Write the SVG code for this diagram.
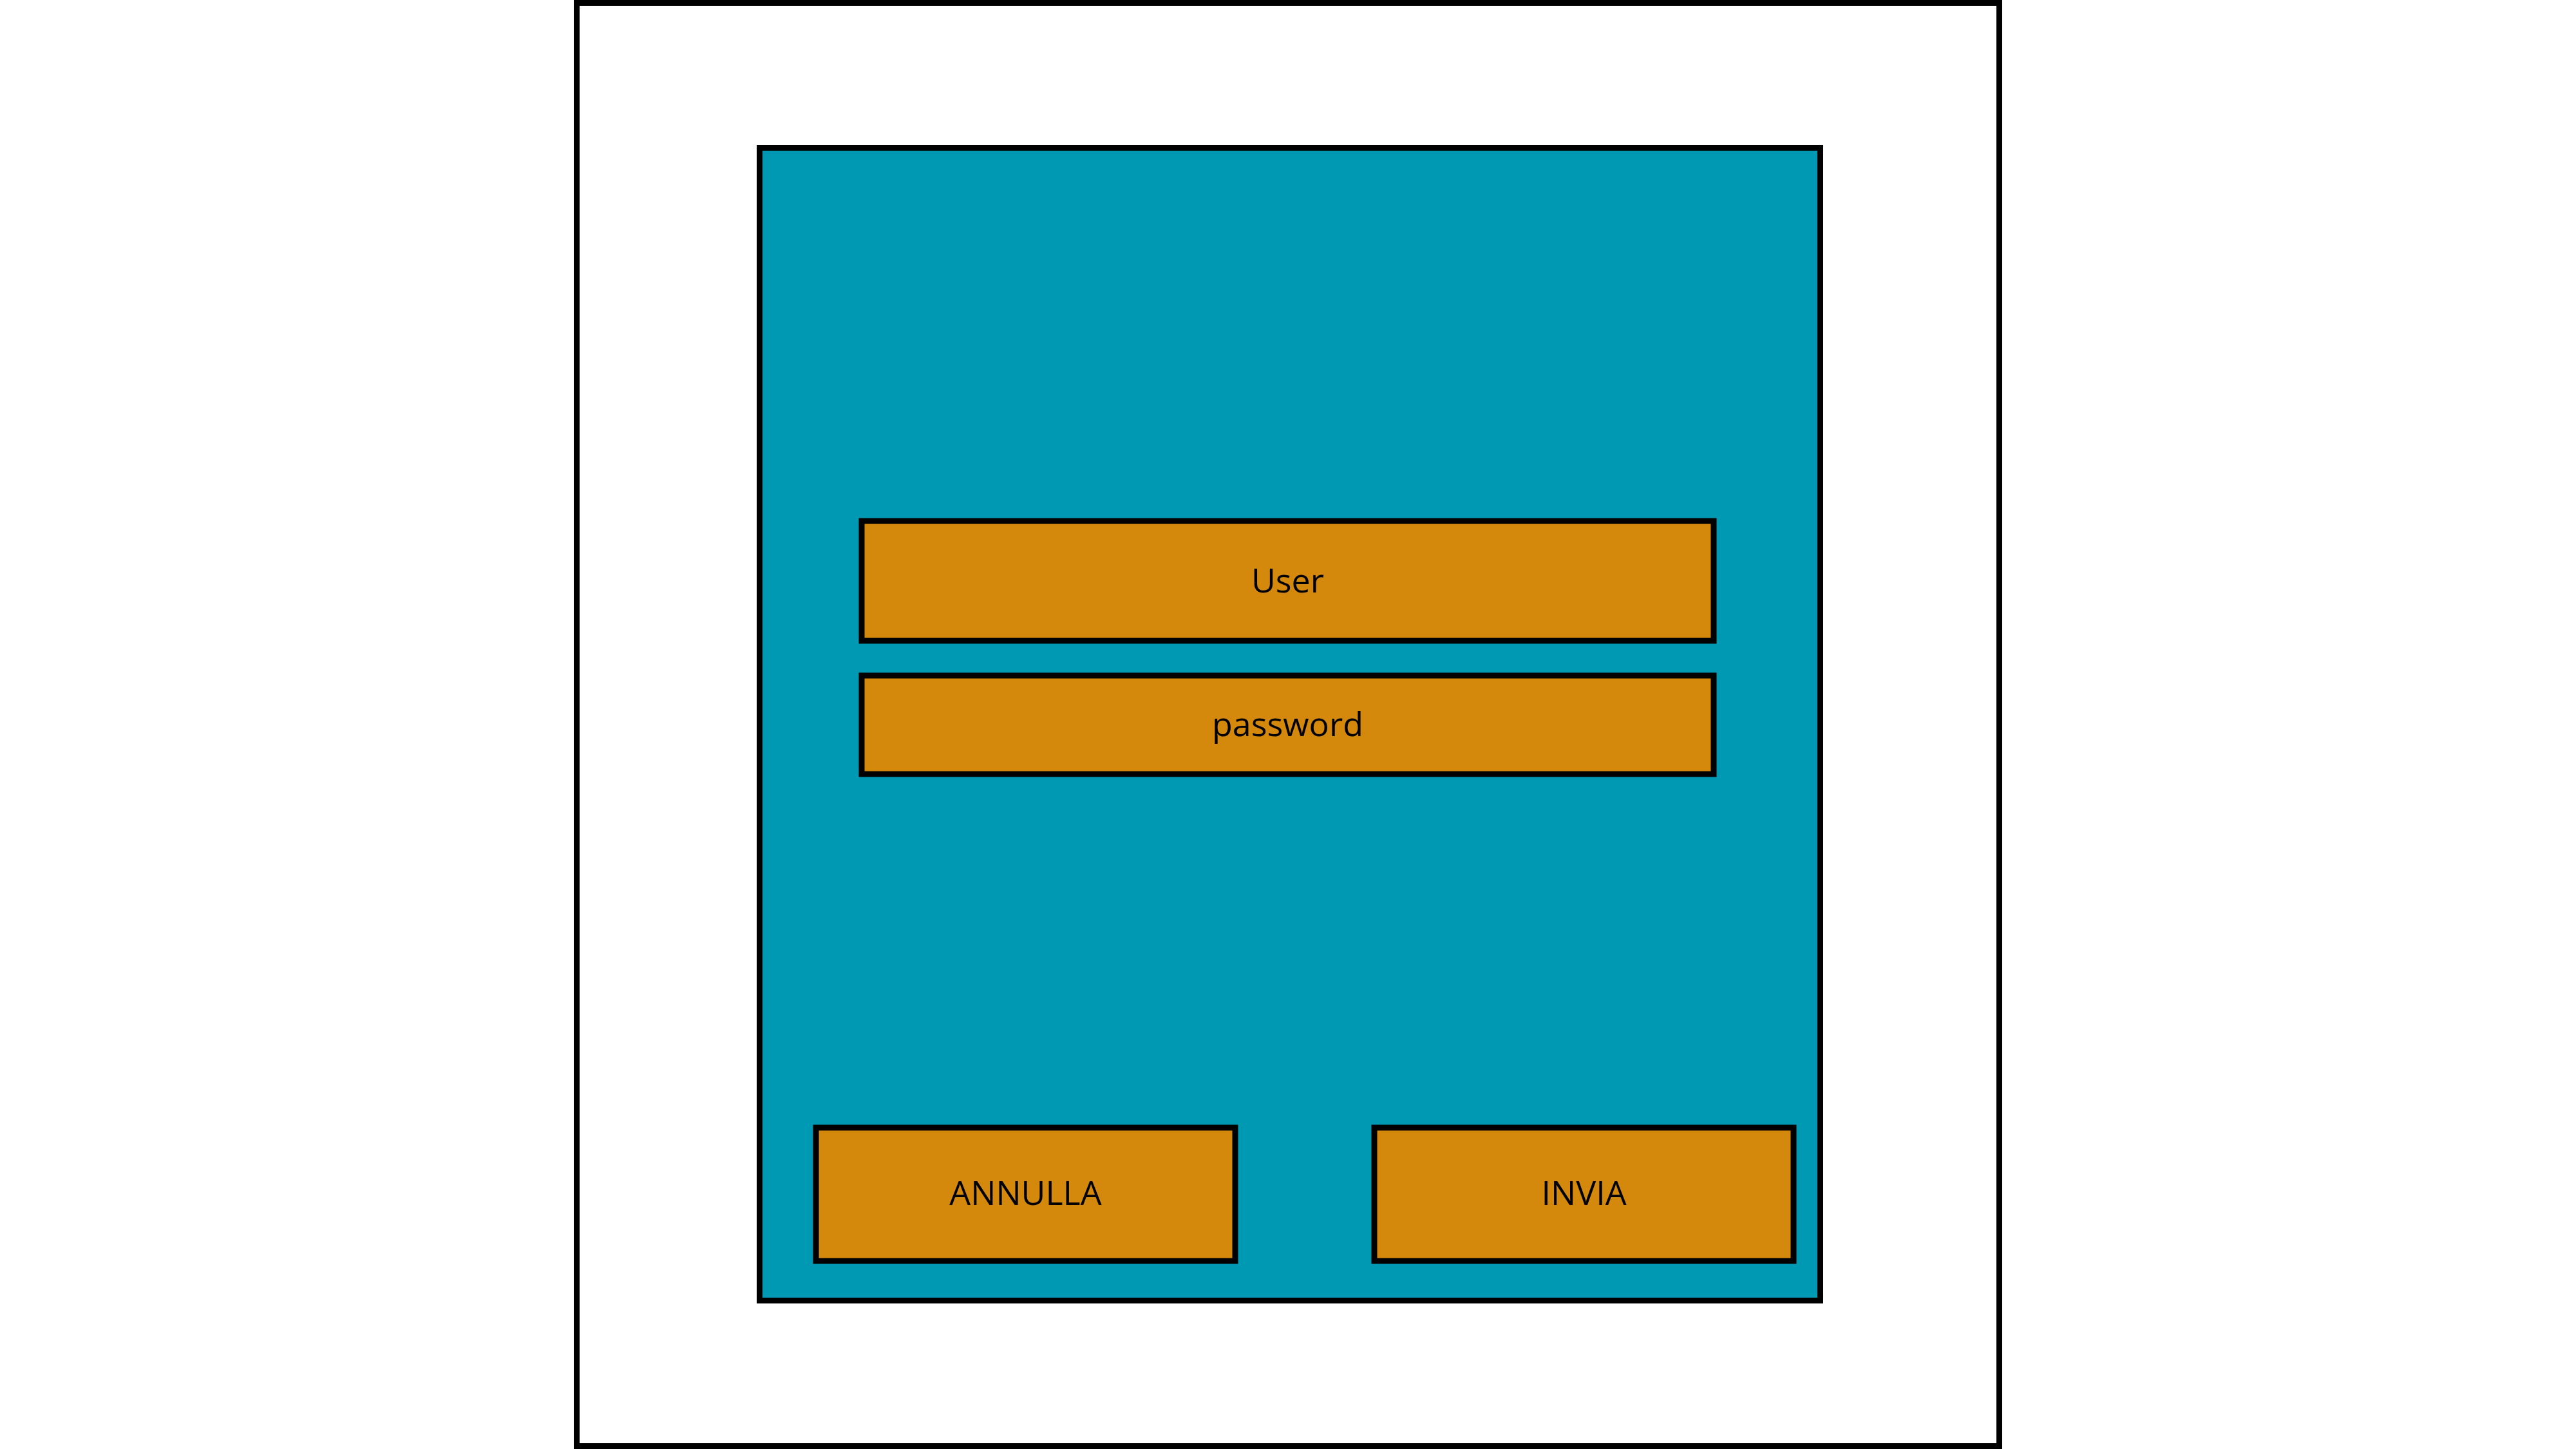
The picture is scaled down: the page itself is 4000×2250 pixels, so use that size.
<svg xmlns="http://www.w3.org/2000/svg" width="4000" height="2250" viewBox="0 0 4000 2250">
<style>
.frame{fill:#ffffff;stroke:#000000;stroke-width:9}
.panel{fill:#0099B3;stroke:#000000;stroke-width:9}
.field{fill:#D4890D;stroke:#000000;stroke-width:9}
.lbl{font-family:"Open Sans","Noto Sans",sans-serif;font-size:52px;fill:#000000;text-anchor:middle;dominant-baseline:central}
</style>
<rect width="4000" height="2250" fill="#ffffff"/>
<g id="frame"><rect class="frame" x="895.5" y="4.5" width="2209" height="2241"/></g>
<g id="panel"><rect class="panel" x="1179.5" y="229.5" width="1647" height="1790"/></g>
<g id="user"><rect class="field" x="1338" y="809" width="1323" height="186"/><text class="lbl" x="1999.5" y="899">User</text></g>
<g id="password"><rect class="field" x="1338" y="1049" width="1323" height="153"/><text class="lbl" x="1999.5" y="1122">password</text></g>
<g id="annulla"><rect class="field" x="1267" y="1751" width="651" height="207"/><text class="lbl" x="1592.5" y="1850">ANNULLA</text></g>
<g id="invia"><rect class="field" x="2134" y="1751" width="651" height="207"/><text class="lbl" x="2459.5" y="1850">INVIA</text></g>
<g id="connectors"></g>
</svg>
